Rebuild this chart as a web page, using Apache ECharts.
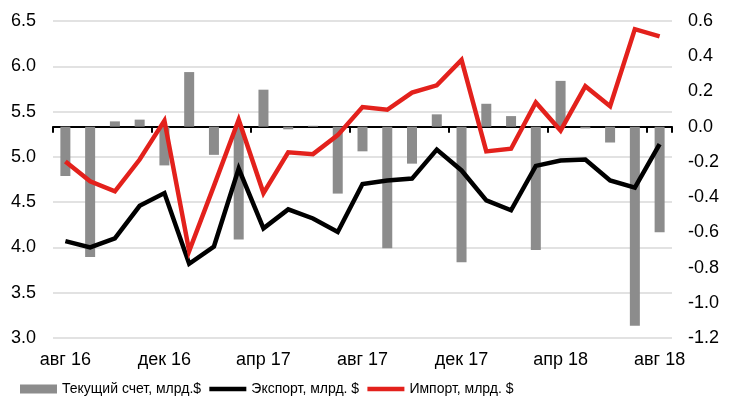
<!DOCTYPE html>
<html>
<head>
<meta charset="utf-8">
<script src="https://cdn.jsdelivr.net/npm/echarts@6/dist/echarts.min.js"></script>
<style>
  html, body { margin: 0; padding: 0; background: #fff; }
  #chart { width: 736px; height: 406px; }
</style>
</head>
<body>
<div id="chart"></div>
<script>
// Monthly categories, Aug 2016 – Aug 2018
const months = ['авг 16','сен 16','окт 16','ноя 16','дек 16','янв 17','фев 17','мар 17','апр 17','май 17','июн 17','июл 17',
                'авг 17','сен 17','окт 17','ноя 17','дек 17','янв 18','фев 18','мар 18','апр 18','май 18','июн 18','июл 18','авг 18'];

// Current account balance, bn $ (right axis)
const currentAccount = [-0.28, -0.74, 0.03, 0.04, -0.22, 0.31, -0.16, -0.64, 0.21, -0.015, 0.005, -0.38,
                        -0.14, -0.69, -0.21, 0.07, -0.77, 0.13, 0.06, -0.70, 0.26, -0.01, -0.09, -1.13, -0.60];

// Exports, bn $ (left axis)
const exports = [4.07, 4.00, 4.10, 4.46, 4.60, 3.82, 4.01, 4.87, 4.21, 4.42, 4.32, 4.17,
                 4.70, 4.74, 4.76, 5.08, 4.85, 4.52, 4.41, 4.90, 4.96, 4.97, 4.74, 4.66, 5.14];

// Imports, bn $ (left axis)
const imports = [4.95, 4.73, 4.62, 4.97, 5.40, 3.96, 4.68, 5.41, 4.60, 5.05, 5.03, 5.24,
                 5.55, 5.52, 5.71, 5.79, 6.07, 5.06, 5.09, 5.60, 5.29, 5.78, 5.56, 6.41, 6.33];

const seriesNames = ['Текущий счет, млрд.$', 'Экспорт, млрд. $', 'Импорт, млрд. $'];

const FONT = '"Liberation Sans", Arial, Helvetica, sans-serif';
const RED = '#e3211c';

const chart = echarts.init(document.getElementById('chart'), null, { renderer: 'canvas' });

chart.setOption({
  animation: false,
  backgroundColor: '#ffffff',
  grid: { left: 53, right: 64, top: 21, bottom: 68, containLabel: false },
  legend: {
    left: 20,
    top: 382,
    padding: 0,
    itemWidth: 37,
    itemHeight: 9,
    itemGap: 6,
    textStyle: { fontFamily: FONT, fontSize: 14, color: '#000' },
    data: [
      { name: seriesNames[0], icon: 'rect' },
      // plain line swatches: hide the marker the line legend icon carries
      { name: seriesNames[1], itemStyle: { opacity: 0 }, lineStyle: { width: 4.5 } },
      { name: seriesNames[2], itemStyle: { opacity: 0 }, lineStyle: { width: 4.5 } }
    ]
  },
  xAxis: {
    type: 'category',
    data: months,
    boundaryGap: true,
    axisLine: { show: true, lineStyle: { color: '#000', width: 2 } },
    axisTick: { show: true, interval: 3, length: 6, lineStyle: { color: '#000', width: 2 } },
    axisLabel: { interval: 3, margin: 13, fontFamily: FONT, fontSize: 18, color: '#000' },
    splitLine: { show: false }
  },
  yAxis: [
    {
      type: 'value',
      min: 3.0, max: 6.5, interval: 0.5,
      axisLine: { show: false },
      axisTick: { show: false },
      axisLabel: { margin: 17, fontFamily: FONT, fontSize: 18, color: '#000',
                   formatter: v => v.toFixed(1) },
      splitLine: { show: true, lineStyle: { color: '#d9d9d9', width: 1.5 } }
    },
    {
      type: 'value',
      min: -1.2, max: 0.6, interval: 0.2,
      axisLine: { show: false },
      axisTick: { show: false },
      axisLabel: { margin: 16, fontFamily: FONT, fontSize: 18, color: '#000',
                   formatter: v => (Math.abs(v) < 1e-9 ? 0 : v).toFixed(1) },
      splitLine: { show: false }
    }
  ],
  series: [
    {
      name: seriesNames[0],
      type: 'bar',
      yAxisIndex: 1,
      data: currentAccount,
      barWidth: 10,
      itemStyle: { color: '#8c8c8c' },
      z: 1
    },
    {
      name: seriesNames[1],
      type: 'line',
      yAxisIndex: 0,
      data: exports,
      symbol: 'none',
      lineStyle: { color: '#000000', width: 4.5, join: 'miter' },
      itemStyle: { color: '#000000' },
      z: 3
    },
    {
      name: seriesNames[2],
      type: 'line',
      yAxisIndex: 0,
      data: imports,
      symbol: 'none',
      lineStyle: { color: RED, width: 4.5, join: 'miter' },
      itemStyle: { color: RED },
      z: 4
    }
  ]
});
</script>
</body>
</html>
